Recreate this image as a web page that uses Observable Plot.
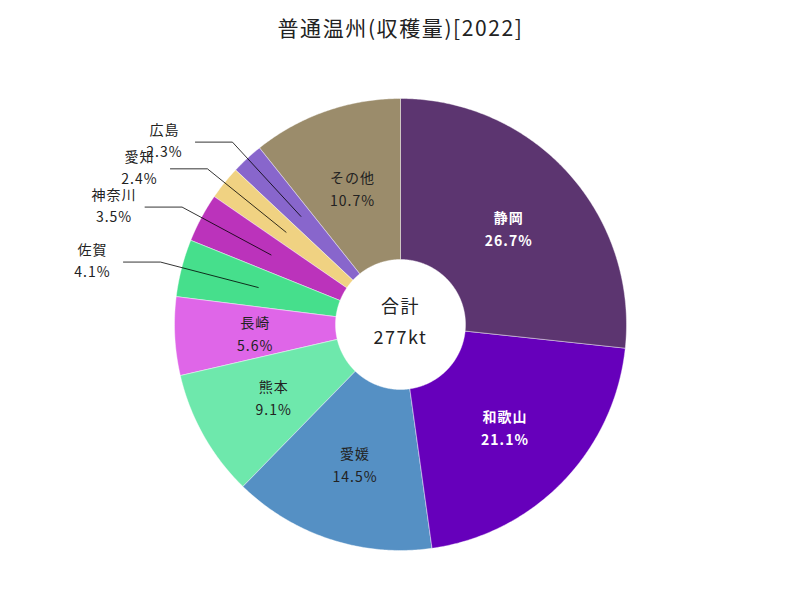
<!DOCTYPE html>
<html>
<head>
<meta charset="utf-8">
<script src="https://cdn.jsdelivr.net/npm/d3@7"></script>
<script src="https://cdn.jsdelivr.net/npm/@observablehq/plot@0.6"></script>
<style>
  html, body { margin: 0; padding: 0; background: #fff; }
  #chart svg { display: block; }
  .lbl text { letter-spacing: 1px; }
  .ttl text { letter-spacing: 1.6px; }
  .ctr text { letter-spacing: 1.5px; }
</style>
</head>
<body>
<div id="chart"></div>
<script>
const title = "普通温州(収穫量)[2022]";
const regions = ["静岡", "和歌山", "愛媛", "熊本", "長崎", "佐賀", "神奈川", "愛知", "広島", "その他"];
const shares = [26.7, 21.1, 14.5, 9.1, 5.6, 4.1, 3.5, 2.4, 2.3, 10.7];
const colors = ["#5c3570", "#6600bb", "#5590c4", "#6ee8ac", "#df66e8", "#46df8c", "#bb33bb", "#f0d282", "#8866cc", "#9b8c6b"];
const centerLabel = "合計";
const totalLabel = "277kt";

// layout
const W = 800, H = 600;
const cx = 400, cy = 324, R = 226, r0 = 65;
const font = "'Noto Sans CJK JP', 'Noto Sans', sans-serif";

const sum = d3.sum(shares);
const slices = [];
let acc = 0;
regions.forEach((name, i) => {
  const a0 = acc / sum * 2 * Math.PI;
  acc += shares[i];
  const a1 = acc / sum * 2 * Math.PI;
  slices.push({name, value: shares[i], color: colors[i], a0, a1, mid: (a0 + a1) / 2});
});
const px = (a, rad) => cx + rad * Math.sin(a);
const py = (a, rad) => cy - rad * Math.cos(a);

// polygons for slices
const poly = [];
for (const s of slices) {
  const n = Math.max(2, Math.ceil((s.a1 - s.a0) / (Math.PI / 360)));
  for (let k = 0; k <= n; k++) {
    const a = s.a0 + (s.a1 - s.a0) * k / n;
    poly.push({name: s.name, color: s.color, x: px(a, R), y: py(a, R)});
  }
  for (let k = n; k >= 0; k--) {
    const a = s.a0 + (s.a1 - s.a0) * k / n;
    poly.push({name: s.name, color: s.color, x: px(a, r0), y: py(a, r0)});
  }
}

const rMid = (R + r0) / 2;
const isDark = c => d3.lab(c).l < 50;
const insideDark = slices.filter(s => s.value >= 5 && isDark(s.color));
const insideLight = slices.filter(s => s.value >= 5 && !isDark(s.color));
const outside = slices.filter(s => s.value < 5);

const leaders = [];
const outLabels = [];
for (const s of outside) {
  const ex = px(s.mid, 248), ey = py(s.mid, 248);
  const lx = ex - 37;
  leaders.push({name: s.name, x: px(s.mid, 147), y: py(s.mid, 147)});
  leaders.push({name: s.name, x: ex, y: ey});
  leaders.push({name: s.name, x: lx, y: ey});
  outLabels.push({text: `${s.name}\n${s.value.toFixed(1)}%`, x: lx - 31, y: ey - 3});
}
const labelText = d => `${d.name}\n${d.value.toFixed(1)}%`;

const chart = Plot.plot({
  width: W,
  height: H,
  margin: 0,
  x: {domain: [0, W], range: [0, W], axis: null},
  y: {domain: [0, H], range: [0, H], axis: null},
  style: {fontFamily: font, background: "#fff"},
  marks: [
    Plot.line(poly, {x: "x", y: "y", z: "name", fill: "color", stroke: "#ffffff", strokeWidth: 0.6, strokeOpacity: 0.7, curve: "linear-closed"}),
    Plot.line(leaders, {x: "x", y: "y", z: "name", stroke: "#000", strokeWidth: 0.8}),
    Plot.text(insideDark, {
      x: d => px(d.mid, rMid), y: d => py(d.mid, rMid), text: labelText,
      fill: "#ffffff", fontWeight: "bold", fontSize: 14, lineHeight: 1.65, className: "lbl"
    }),
    Plot.text(insideLight, {
      x: d => px(d.mid, rMid), y: d => py(d.mid, rMid), text: labelText,
      fill: "#222222", fontSize: 14, lineHeight: 1.65, className: "lbl"
    }),
    Plot.text(outLabels, {x: "x", y: "y", text: "text", fill: "#222", fontSize: 14, lineHeight: 1.6, className: "lbl"}),
    Plot.text([centerLabel, totalLabel], {x: [cx, cx], y: [cy - 17, cy + 14], text: d => d, fontSize: 18, fill: "#222", className: "ctr"}),
    Plot.text([title], {x: [W / 2], y: [29], text: d => d, fontSize: 21, fill: "#222", className: "ttl"})
  ]
});
document.getElementById("chart").appendChild(chart);
</script>
</body>
</html>
